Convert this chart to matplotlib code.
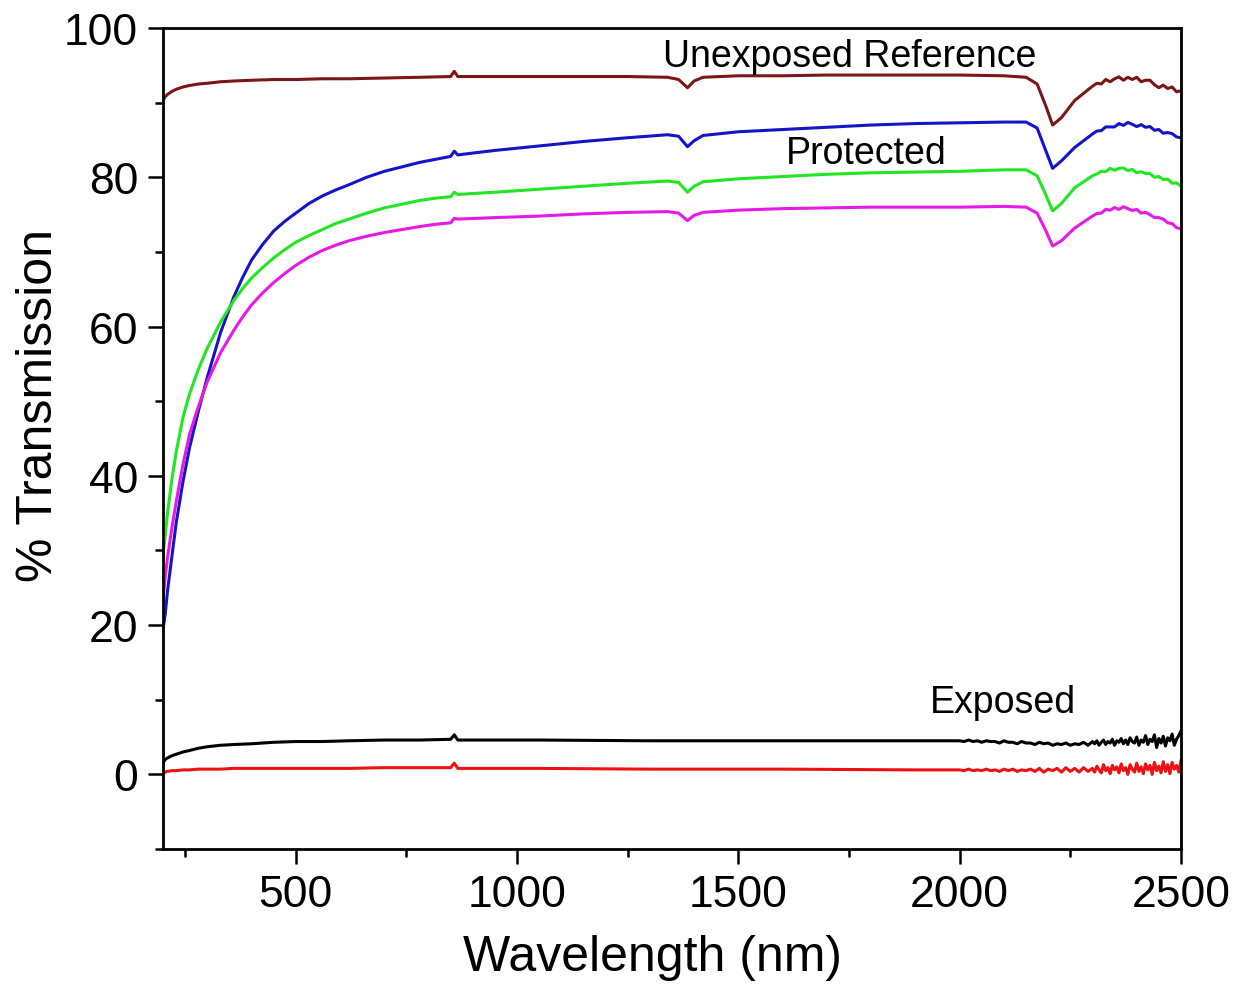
import matplotlib
matplotlib.use('Agg')
import matplotlib.pyplot as plt
from matplotlib.ticker import MultipleLocator

plt.rcParams['font.family'] = ['Liberation Sans', 'DejaVu Sans']

# wavelength grid (nm) for the upper four spectra
wl = [200, 205, 210, 220, 230, 245, 260, 280, 300, 330, 360, 380, 400, 425,
      450, 475, 500, 530, 560, 590, 620, 660, 700, 740, 780, 815, 850, 858,
      866, 950, 1050, 1150, 1250, 1340, 1365, 1385, 1400, 1420, 1500, 1600,
      1700, 1800, 1900, 2000, 2100, 2150, 2175, 2195, 2210, 2230, 2260, 2300]
# noisy end of the spectra
wl_tail = list(range(2310, 2510, 10))

unexposed = [90.3, 90.8, 91.1, 91.5, 91.8, 92.1, 92.3, 92.5, 92.6, 92.8, 92.9,
             92.95, 93.0, 93.05, 93.1, 93.1, 93.1, 93.15, 93.2, 93.2, 93.2,
             93.25, 93.3, 93.35, 93.4, 93.45, 93.5, 94.2, 93.5, 93.5, 93.5,
             93.5, 93.5, 93.4, 93.1, 92.0, 92.9, 93.4, 93.6, 93.6, 93.7, 93.7,
             93.7, 93.7, 93.6, 93.4, 92.5, 89.5, 87.0, 88.0, 90.3, 92.2]
unexposed_tail = [92.6, 92.5, 93.1, 92.8, 93.2, 93.45, 93.0, 93.4, 93.1, 93.4,
                  92.8, 93.0, 93.0, 92.4, 92.0, 92.35, 91.9, 92.1, 91.45, 91.6]

prot_blue = [19.5, 21.5, 24.5, 29.2, 33.8, 39.2, 43.8, 48.7, 53.2, 59.2, 64.0,
             66.6, 68.9, 71.0, 72.8, 74.1, 75.2, 76.5, 77.5, 78.3, 79.0, 80.0,
             80.8, 81.4, 82.0, 82.4, 82.8, 83.5, 83.0, 83.6, 84.2, 84.8, 85.3,
             85.7, 85.5, 84.1, 84.9, 85.6, 86.1, 86.4, 86.7, 87.0, 87.2, 87.3,
             87.4, 87.4, 86.6, 83.5, 81.2, 82.2, 84.0, 85.8]
blue_tail = [86.2, 86.25, 86.75, 86.75, 86.75, 87.2, 86.95, 87.35, 87.1, 86.8,
             87.05, 86.7, 86.8, 86.3, 86.4, 85.9, 86.0, 85.85, 85.4, 85.3]

prot_green = [29.5, 32.0, 35.0, 39.5, 43.3, 47.8, 51.0, 54.3, 57.1, 60.6, 63.5,
              65.1, 66.5, 67.9, 69.2, 70.3, 71.3, 72.2, 73.0, 73.8, 74.4, 75.2,
              75.9, 76.4, 76.9, 77.2, 77.4, 78.0, 77.7, 78.0, 78.4, 78.8, 79.2,
              79.5, 79.3, 78.0, 78.8, 79.4, 79.8, 80.1, 80.4, 80.6, 80.7, 80.8,
              81.0, 81.0, 80.2, 77.6, 75.5, 76.5, 78.6, 80.2]
green_tail = [80.45, 80.8, 80.75, 81.2, 80.95, 81.2, 81.25, 80.9, 81.05, 80.6,
              80.75, 80.5, 80.5, 80.0, 80.1, 79.7, 79.75, 79.2, 79.25, 78.8]

prot_magenta = [23.5, 26.5, 29.0, 33.0, 36.6, 41.5, 45.6, 49.3, 52.6, 56.5,
                59.5, 61.3, 62.9, 64.5, 65.9, 67.1, 68.2, 69.3, 70.2, 70.9,
                71.5, 72.1, 72.6, 73.0, 73.4, 73.7, 73.9, 74.5, 74.4, 74.6,
                74.8, 75.1, 75.3, 75.4, 75.2, 74.2, 74.9, 75.3, 75.6, 75.8,
                75.9, 76.0, 76.0, 76.0, 76.1, 76.0, 75.2, 72.8, 70.8, 71.5,
                73.2, 74.8]
magenta_tail = [75.15, 75.2, 75.7, 75.6, 75.95, 75.7, 76.05, 75.8, 75.55, 75.7,
                75.2, 75.3, 75.0, 74.6, 74.6, 74.4, 73.9, 73.8, 73.25, 73.1]

# exposed samples
wl_exp = [200, 205, 210, 220, 230, 245, 260, 280, 300, 330, 360, 400, 450, 500,
          560, 620, 700, 780, 850, 858, 866, 950, 1050, 1300, 1600, 1900]
exp_black = [1.6, 2.0, 2.2, 2.5, 2.7, 3.0, 3.2, 3.5, 3.7, 3.9, 4.0, 4.1, 4.3,
             4.4, 4.4, 4.5, 4.6, 4.6, 4.7, 5.3, 4.6, 4.6, 4.6, 4.5, 4.5, 4.5]
exp_red = [0.1, 0.3, 0.4, 0.5, 0.5, 0.6, 0.6, 0.7, 0.7, 0.7, 0.8, 0.8, 0.8,
           0.8, 0.8, 0.8, 0.9, 0.9, 0.9, 1.5, 0.8, 0.8, 0.8, 0.7, 0.7, 0.6]

# noisy part of the exposed spectra
wl_exp_tail = list(range(2000, 2300, 10)) + list(range(2300, 2505, 5))
black_tail = [4.5, 4.4, 4.6, 4.4, 4.5, 4.3, 4.5, 4.4, 4.4, 4.2,
              4.5, 4.3, 4.3, 4.1, 4.4, 4.2, 4.2, 4.0, 4.3, 4.1,
              4.2, 3.9, 4.1, 4.0, 4.2, 3.9, 4.1, 4.0, 4.3, 3.9,
              4.4, 4.1, 4.5, 3.9, 4.3, 4.6, 4.0, 4.4, 4.2, 4.7,
              3.9, 4.5, 4.3, 4.8, 4.1, 4.6, 4.0, 4.9, 4.4, 4.2,
              5.0, 3.9, 4.6, 4.3, 5.2, 4.0, 4.7, 4.4, 5.3, 3.6,
              4.8, 4.2, 5.1, 3.8, 4.9, 4.5, 5.4, 3.9, 4.7, 5.2, 5.8]
red_tail = [0.6, 0.5, 0.7, 0.5, 0.6, 0.5, 0.7, 0.5, 0.6, 0.4,
            0.7, 0.5, 0.7, 0.4, 0.6, 0.5, 0.7, 0.4, 0.8, 0.3,
            0.7, 0.5, 0.8, 0.3, 0.9, 0.4, 0.8, 0.3, 0.9, 0.4,
            0.8, 0.3, 1.1, 0.6, 0.2, 1.3, 0.5, 0.9, 0.1, 1.2,
            0.6, 1.0, 0.2, 1.4, 0.5, 0.9, 0.0, 1.3, 0.7, 0.3,
            1.5, 0.4, 1.0, 0.1, 1.4, 0.6, 1.2, 0.0, 1.6, 0.5,
            1.1, 0.2, 1.7, 0.4, 1.3, 0.1, 1.6, 0.7, 1.2, 0.3, 1.8]

fig = plt.figure(figsize=(12.37, 9.87), dpi=100)
ax = fig.add_axes([0.1318, 0.1388, 0.8229, 0.8318])

lw = 2.2
ax.plot(wl + wl_tail, unexposed + unexposed_tail, color='#7a1616', lw=lw)
ax.plot(wl + wl_tail, prot_blue + blue_tail, color='#1414c8', lw=lw)
ax.plot(wl + wl_tail, prot_green + green_tail, color='#22e622', lw=lw)
ax.plot(wl + wl_tail, prot_magenta + magenta_tail, color='#e619e6', lw=lw)
ax.plot(wl_exp + wl_exp_tail, exp_black + black_tail, color='black', lw=lw)
ax.plot(wl_exp + wl_exp_tail, exp_red + red_tail, color='#ee1111', lw=lw)

ax.text(1330, 96.3, 'Unexposed Reference', fontsize=27, va='center')
ax.text(1607, 83.3, 'Protected', fontsize=27, va='center')
ax.text(1932, 9.7, 'Exposed', fontsize=27, va='center')

ax.set_xlim(200, 2500)
ax.set_ylim(-10, 100)
ax.xaxis.set_major_locator(MultipleLocator(500))
ax.xaxis.set_minor_locator(MultipleLocator(250))
ax.yaxis.set_major_locator(MultipleLocator(20))
ax.yaxis.set_minor_locator(MultipleLocator(10))
ax.tick_params(which='major', direction='out', length=11, width=1.8,
               labelsize=32, pad=7)
ax.tick_params(which='minor', direction='out', length=6, width=1.8)
ax.tick_params(top=False, right=False, which='both')
for s in ax.spines.values():
    s.set_linewidth(2)

ax.set_xlabel('Wavelength (nm)', fontsize=36, labelpad=14)
ax.set_ylabel('% Transmission', fontsize=36, labelpad=1.5)
ax.xaxis.label.set_x(0.481)
ax.yaxis.label.set_y(0.541)

fig.savefig('out.png', dpi=100)
